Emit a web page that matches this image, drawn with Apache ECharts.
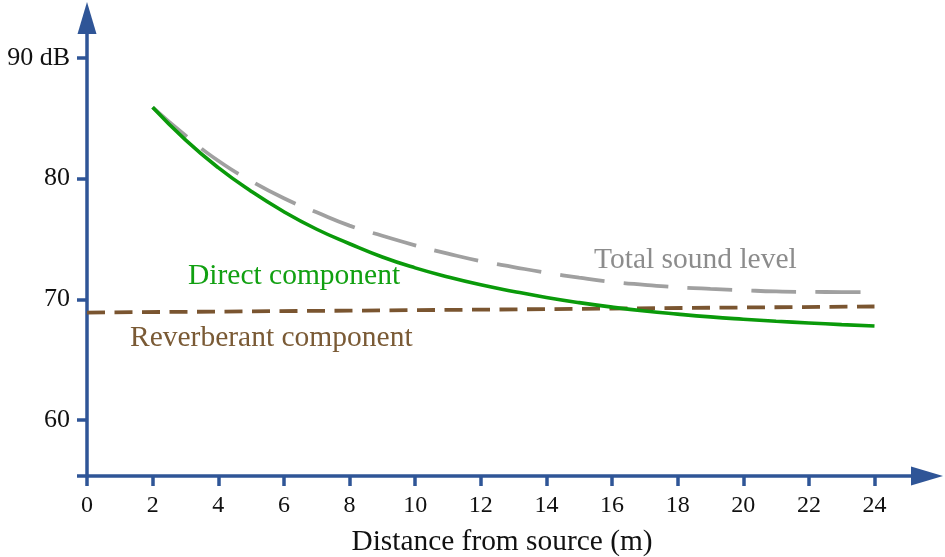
<!DOCTYPE html>
<html>
<head>
<meta charset="utf-8">
<script src="https://cdn.jsdelivr.net/npm/echarts@6/dist/echarts.min.js"></script>
<style>
html,body{margin:0;padding:0;background:#fff;}
#chart{width:945px;height:557px;}
</style>
</head>
<body>
<div id="chart"></div>
<script>
// Distances (m)
const distances = [2,3,4,5,6,7,8,9,10,11,12,13,14,15,16,17,18,19,20,21,22,23,24];
// Direct component (dB)
const directLevel = [85.9,83.2,80.9,78.95,77.25,75.8,74.6,73.5,72.6,71.85,71.2,70.65,70.15,69.72,69.35,69.03,68.77,68.54,68.35,68.18,68.04,67.9,67.78];
// Total sound level (dB)
const totalLevel = [85.9,83.57,81.47,79.8,78.37,77.2,76.1,75.26,74.47,73.78,73.16,72.67,72.2,71.79,71.44,71.2,71.0,70.86,70.75,70.65,70.61,70.6,70.6];
// Reverberant component
const reverbDistances = [0,4,8,12,16,20,24];
const reverbLevel = [68.9,68.98,69.06,69.14,69.23,69.32,69.4];
// Tick labels
const xTicks = [0,2,4,6,8,10,12,14,16,18,20,22,24];
const yTicks = [60,70,80,90];

const axisColor = '#2f5597';
const serif = '"Liberation Serif", "Times New Roman", serif';

const chart = echarts.init(document.getElementById('chart'), null, {renderer:'canvas'});
const pair = (xs, ys) => xs.map((x,i)=>[x, ys[i]]);

chart.setOption({
  animation:false,
  backgroundColor:'#ffffff',
  grid:{left:87, right:18, top:18, bottom:81, containLabel:false, outerBoundsMode:'none'},
  xAxis:{
    type:'value', min:0, max:25.6,
    splitLine:{show:false},
    axisLine:{show:true, onZero:false, symbol:['none','triangle'], symbolSize:[19,32],
      lineStyle:{color:axisColor, width:3.5}},
    axisTick:{show:true, length:10, inside:false, customValues:xTicks,
      lineStyle:{color:axisColor, width:3.5}},
    axisLabel:{customValues:xTicks, margin:18, color:'#111', fontFamily:serif, fontSize:24},
    name:'Distance from source (m)', nameLocation:'middle', nameGap:52,
    nameTextStyle:{color:'#111', fontFamily:serif, fontSize:29.4, padding:[0,10,0,0]}
  },
  yAxis:{
    type:'value', min:55.36, max:93.3,
    splitLine:{show:false},
    axisLine:{show:true, onZero:false, symbol:['none','triangle'], symbolSize:[19,32],
      lineStyle:{color:axisColor, width:3.5}},
    axisTick:{show:true, length:10, inside:false, customValues:[55.36].concat(yTicks),
      lineStyle:{color:axisColor, width:3.5}},
    axisLabel:{customValues:yTicks, margin:17, color:'#111', fontFamily:serif, fontSize:26,
      formatter:(v)=> v===90 ? '90 dB' : String(v)}
  },
  series:[
    {
      name:'Reverberant component', type:'line', data:pair(reverbDistances, reverbLevel),
      showSymbol:false, smooth:false,
      lineStyle:{color:'#7a5530', width:3.8, type:[18,9.5]}, z:2
    },
    {
      name:'Total sound level', type:'line', data:pair(distances, totalLevel),
      showSymbol:false, smooth:true,
      lineStyle:{color:'#a0a0a0', width:3.8, type:[45,19]}, z:3
    },
    {
      name:'Direct component', type:'line', data:pair(distances, directLevel),
      showSymbol:false, smooth:true,
      lineStyle:{color:'#0a9a0a', width:3.6}, z:4
    }
  ],
  graphic:[
    {type:'text', left:188, top:261, style:{text:'Direct component', fill:'#11a011', font:'29.5px '+serif}},
    {type:'text', left:594, top:245, style:{text:'Total sound level', fill:'#8c8c8c', font:'29.5px '+serif}},
    {type:'text', left:130, top:323, style:{text:'Reverberant component', fill:'#7a5a35', font:'29.5px '+serif}}
  ]
});
</script>
</body>
</html>
